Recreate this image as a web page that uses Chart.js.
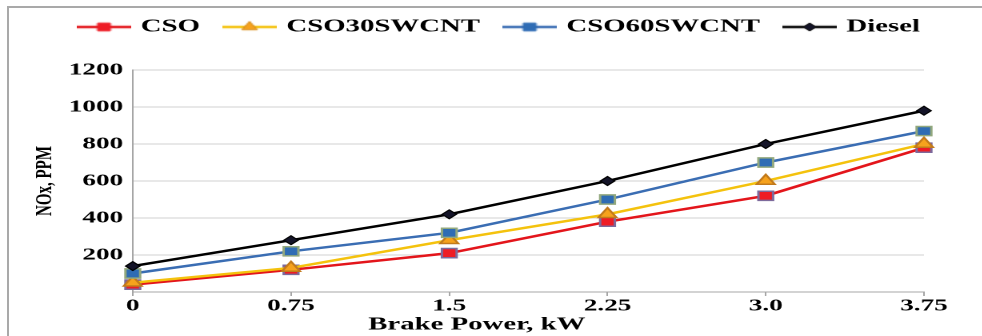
<!DOCTYPE html>
<html>
<head>
<meta charset="utf-8">
<script src="https://cdn.jsdelivr.net/npm/chart.js@4.4.1/dist/chart.umd.min.js"></script>
<style>
  html, body { margin: 0; padding: 0; background: #fff; }
  body { width: 982px; height: 336px; position: relative; overflow: hidden; }
  #frame { position: absolute; left: 7px; top: 6px; right: -4px; bottom: -4px;
           border-left: 2px solid #a9a9a9; border-top: 2px solid #a9a9a9; }
  /* the source picture is stretched sideways, so the chart is drawn narrow and widened */
  #wrap { position: absolute; left: 0; top: 0; width: 614px; height: 336px;
          transform: scaleX(1.6); transform-origin: 0 0; }
</style>
</head>
<body>
<div id="frame"></div>
<div id="wrap"><canvas id="myChart" width="614" height="336"></canvas></div>
<script>
// Data ---------------------------------------------------------------
const brakePower = ['0', '0.75', '1.5', '2.25', '3.0', '3.75'];
const cso       = [40, 120, 210, 380, 520, 780];
const cso30     = [50, 130, 280, 420, 600, 800];
const cso60     = [100, 220, 320, 500, 700, 870];
const diesel    = [140, 280, 420, 600, 800, 980];
const yTicksMin = 0, yTicksMax = 1200, yStep = 200;
const xTitleText = 'Brake Power, kW';
const yTitleText = 'NOx, PPM';

const serif = '"Liberation Serif", "Times New Roman", serif';

// legend icon: short line with the marker in the middle
function makeIcon(lineColor, style, fill, border, radius, bw) {
  const c = document.createElement('canvas');
  c.width = 34; c.height = 14;
  const g = c.getContext('2d');
  g.strokeStyle = lineColor; g.lineWidth = 2.5;
  g.beginPath(); g.moveTo(0, 7); g.lineTo(34, 7); g.stroke();
  g.fillStyle = fill; g.strokeStyle = border; g.lineWidth = bw;
  Chart.helpers.drawPoint(g, { pointStyle: style, radius: radius, rotation: 0, borderWidth: bw }, 17, 7);
  return c;
}

const legendIcons = [
  makeIcon('#e3151b', 'rect', '#ee1c25', '#ee1c25', 5.5, 1),
  makeIcon('#f4c20d', 'triangle', '#f6a21d', '#d88d1a', 5.5, 1),
  makeIcon('#3a6db3', 'rect', '#2f6cb4', '#2f6cb4', 5.5, 1),
  makeIcon('#000000', 'rectRot', '#141428', '#000000', 4, 1)
];

// x axis title sits a bit left of the plot centre in the source
const xTitlePlugin = {
  id: 'xTitle',
  afterDraw(chart) {
    const ctx = chart.ctx;
    ctx.save();
    ctx.font = 'bold 18px ' + serif;
    ctx.fillStyle = '#000';
    ctx.textAlign = 'center';
    ctx.textBaseline = 'middle';
    ctx.fillText(xTitleText, chart.chartArea.left + 215, 325);
    ctx.restore();
  }
};

// taller legend box so the plot starts lower
const legendSpace = {
  id: 'legendSpace',
  beforeInit(chart) {
    const originalFit = chart.legend.fit;
    chart.legend.fit = function fit() {
      originalFit.bind(chart.legend)();
      this.height += 24;
    };
  }
};

const ctx = document.getElementById('myChart');

new Chart(ctx, {
  type: 'line',
  data: {
    labels: brakePower,
    datasets: [{
      label: 'CSO',
      data: cso,
      borderColor: '#e3151b',
      backgroundColor: '#ee1c25',
      pointBackgroundColor: '#ee1c25',
      pointBorderColor: '#7d6a9c',
      pointStyle: 'rect',
      pointRadius: 6.5,
      pointBorderWidth: 1.5,
      borderWidth: 2.5,
      order: 4
    }, {
      label: 'CSO30SWCNT',
      data: cso30,
      borderColor: '#f4c20d',
      backgroundColor: '#f6a21d',
      pointBackgroundColor: '#f6a21d',
      pointBorderColor: '#c27a1c',
      pointStyle: 'triangle',
      pointRadius: 6.5,
      pointBorderWidth: 1.5,
      borderWidth: 2.5,
      order: 3
    }, {
      label: 'CSO60SWCNT',
      data: cso60,
      borderColor: '#3a6db3',
      backgroundColor: '#2f6cb4',
      pointBackgroundColor: '#2f6cb4',
      pointBorderColor: '#92a87e',
      pointStyle: 'rect',
      pointRadius: 6.5,
      pointBorderWidth: 1.5,
      borderWidth: 2.5,
      order: 2
    }, {
      label: 'Diesel',
      data: diesel,
      borderColor: '#000000',
      backgroundColor: '#141428',
      pointBackgroundColor: '#141428',
      pointBorderColor: '#000000',
      pointStyle: 'rectRot',
      pointRadius: 4.5,
      pointBorderWidth: 1,
      borderWidth: 2.5,
      order: 1
    }]
  },
  options: {
    responsive: false,
    animation: false,
    devicePixelRatio: 2,
    layout: { padding: { left: 12, right: 0, top: 1, bottom: 0 } },
    scales: {
      x: {
        offset: false,
        border: { display: true, color: '#a6a6a6', width: 1 },
        grid: { display: true, drawOnChartArea: false, drawTicks: true, tickLength: 4, color: '#a6a6a6' },
        ticks: {
          color: '#000',
          padding: 0,
          maxRotation: 0,
          font: { family: serif, size: 17, weight: 'bold' }
        },
        afterFit(scale) {
          scale.height = 44;
          scale.paddingRight = 36.5;
        }
      },
      y: {
        min: yTicksMin,
        max: yTicksMax,
        border: { display: true, color: '#a6a6a6', width: 1 },
        grid: { color: '#d0d0d0', drawTicks: false },
        ticks: {
          stepSize: yStep,
          color: '#000',
          padding: 6,
          font: { family: serif, size: 17, weight: 'bold' },
          callback: (v) => v === 0 ? '' : v
        },
        title: {
          display: true,
          text: yTitleText,
          color: '#000',
          padding: { top: 7, bottom: 0 },
          font: { family: serif, size: 15, weight: 'bold' }
        },
        afterFit(scale) {
          scale.width = 71;
        }
      }
    },
    plugins: {
      legend: {
        display: true,
        position: 'top',
        align: 'center',
        labels: {
          usePointStyle: true,
          pointStyleWidth: 28,
          padding: 17,
          color: '#000',
          font: { family: serif, size: 18, weight: 'bold' },
          sort: (a, b) => a.datasetIndex - b.datasetIndex,
          generateLabels(chart) {
            const items = Chart.defaults.plugins.legend.labels.generateLabels(chart);
            items.forEach(it => { it.pointStyle = legendIcons[it.datasetIndex]; });
            return items;
          }
        }
      },
      tooltip: { enabled: false }
    }
  },
  plugins: [legendSpace, xTitlePlugin]
});
</script>
</body>
</html>
